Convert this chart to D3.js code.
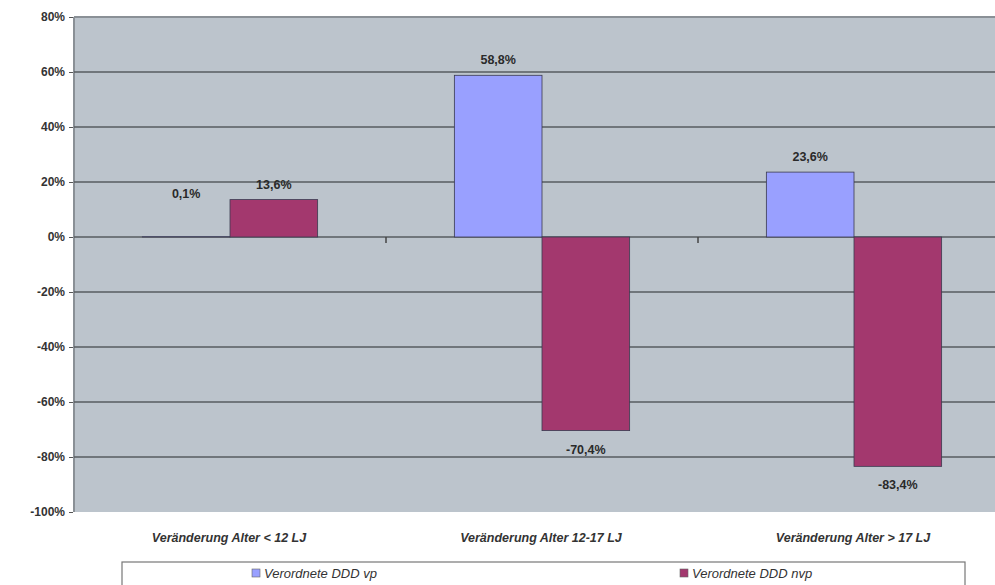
<!DOCTYPE html>
<html><head><meta charset="utf-8">
<script src="https://cdn.jsdelivr.net/npm/d3@7"></script>
<style>body{margin:0;background:#fff}svg{display:block}</style>
</head><body>
<svg id="c" width="995" height="585"></svg>
<script>
const categories = ["Veränderung Alter < 12 LJ", "Veränderung Alter 12-17 LJ", "Veränderung Alter > 17 LJ"];
const seriesNames = ["Verordnete DDD vp", "Verordnete DDD nvp"];
const vp = [0.1, 58.8, 23.6];
const nvp = [13.6, -70.4, -83.4];
const yTicks = [80, 60, 40, 20, 0, -20, -40, -60, -80, -100];
const colors = ["#99a0ff", "#a3386e"];

const svg = d3.select("#c");
const L = 74, R = 1010, T = 17, B = 512;
const x0 = d3.scaleBand().domain(categories).range([L, R]).paddingInner(0).paddingOuter(0);
const x1 = d3.scaleBand().domain(seriesNames).range([0, x0.bandwidth()]).paddingInner(0).paddingOuter(0.78);
const y = d3.scaleLinear().domain([-100, 80]).range([B, T]);

svg.append("rect").attr("x", L).attr("y", T).attr("width", R - L).attr("height", B - T).attr("fill", "#bcc4cc");
svg.append("line").attr("x1", L).attr("x2", L).attr("y1", T).attr("y2", B).attr("stroke", "#8a9096").attr("stroke-width", 2);

// gridlines
svg.append("g").selectAll("line").data(yTicks.filter(d => d !== -100)).join("line")
  .attr("x1", L).attr("x2", R).attr("y1", d => y(d)).attr("y2", d => y(d))
  .attr("stroke", d => d === 80 ? "#8a9096" : "#575c60").attr("stroke-width", d => d === 80 ? 2 : 1.4);

// y axis
const yAxis = d3.axisLeft(y).tickValues(yTicks).tickSize(4).tickFormat(d => d + "%");
const ga = svg.append("g").attr("transform", `translate(${L - 1},0)`).call(yAxis);
ga.select(".domain").remove();
ga.selectAll("line").attr("stroke", "#555");
ga.selectAll("text").attr("font-family", "Liberation Sans, Arial, sans-serif").attr("font-size", 12)
  .attr("font-weight", "bold").attr("fill", "#333").attr("x", -8);

// category tick marks at zero
svg.append("g").selectAll("line").data(categories.slice(1)).join("line")
  .attr("x1", d => x0(d)).attr("x2", d => x0(d)).attr("y1", y(0)).attr("y2", y(0) + 6)
  .attr("stroke", "#444").attr("stroke-width", 1.5);

const data = categories.map((c, i) => ({c, vals: [vp[i], nvp[i]]}));
const groups = svg.append("g").selectAll("g").data(data).join("g")
  .attr("transform", d => `translate(${x0(d.c)},0)`);
groups.selectAll("rect").data(d => d.vals.map((v, j) => ({v, s: seriesNames[j], j}))).join("rect")
  .attr("x", d => x1(d.s)).attr("width", x1.bandwidth())
  .attr("y", d => y(Math.max(0, d.v))).attr("height", d => Math.abs(y(d.v) - y(0)))
  .attr("fill", d => colors[d.j]).attr("stroke", "#3a3a50").attr("stroke-width", 0.8);

const fmt = v => (v.toFixed(1).replace(".", ",")) + "%";
groups.selectAll("text").data(d => d.vals.map((v, j) => ({v, s: seriesNames[j], j, tiny: Math.abs(v) < 1}))).join("text")
  .attr("x", d => x1(d.s) + x1.bandwidth() / 2)
  .attr("y", d => d.tiny ? y(0) - 39 : (d.v >= 0 ? y(d.v) - 11 : y(d.v) + 23))
  .attr("text-anchor", "middle")
  .attr("font-family", "Liberation Sans, Arial, sans-serif").attr("font-size", 12.5).attr("font-weight", "bold")
  .attr("fill", "#2a2a2a").text(d => fmt(d.v));

// x labels
svg.append("g").selectAll("text").data(categories).join("text")
  .attr("x", d => x0(d) + x0.bandwidth() / 2 - 1).attr("y", 542).attr("text-anchor", "middle")
  .attr("font-family", "Liberation Sans, Arial, sans-serif").attr("font-size", 12.5).attr("font-style", "italic")
  .attr("font-weight", "bold").attr("fill", "#333").text(d => d);

// legend
svg.append("rect").attr("x", 122).attr("y", 562).attr("width", 843).attr("height", 30)
  .attr("fill", "#fff").attr("stroke", "#777").attr("stroke-width", 1.2);
const lx = [252, 680];
const lg = svg.append("g").selectAll("g").data(seriesNames).join("g")
  .attr("transform", (d, i) => `translate(${lx[i]},568)`);
lg.append("rect").attr("width", 8).attr("height", 8).attr("y", 1).attr("fill", (d, i) => colors[i]).attr("stroke", "#666").attr("stroke-width", 0.6);
lg.append("text").attr("x", 12).attr("y", 10).attr("font-family", "Liberation Sans, Arial, sans-serif")
  .attr("font-size", 13).attr("font-style", "italic").attr("fill", "#333").text(d => d);
</script>
</body></html>
